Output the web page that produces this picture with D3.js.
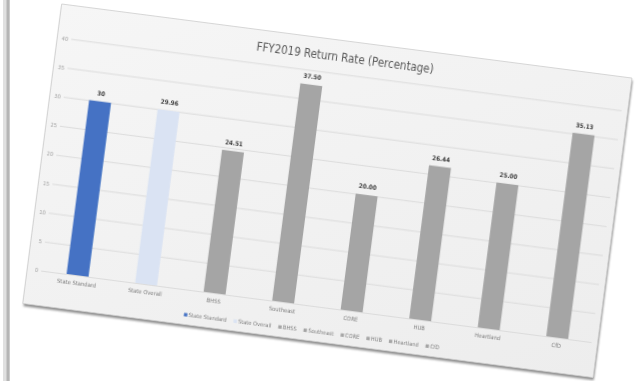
<!DOCTYPE html>
<html><head><meta charset="utf-8">
<script src="https://cdn.jsdelivr.net/npm/d3@7"></script>
<style>html,body{margin:0;padding:0;background:#fff;overflow:hidden}</style>
</head><body>
<svg id="chart" width="641" height="381"></svg>
<script>
// ---- data ----
const categories = ["State Standard", "State Overall", "BHSS", "Southeast", "CORE", "HUB", "Heartland", "CfD"];
const values = [30, 29.96, 24.51, 37.50, 20.00, 26.44, 25.00, 35.13];
const valueLabels = ["30", "29.96", "24.51", "37.50", "20.00", "26.44", "25.00", "35.13"];
const barColors = ["#4472c4", "#dae3f3", "#a5a5a5", "#a5a5a5", "#a5a5a5", "#a5a5a5", "#a5a5a5", "#a5a5a5"];
const yTicks = [0, 5, 10, 15, 20, 25, 30, 35, 40];
const titleText = "FFY2019 Return Rate (Percentage)";

// ---- layout ----
const W = 575, H = 302;
const FONT = "'Liberation Sans Narrow','Arial Narrow','DejaVu Sans Condensed',sans-serif";
const svg = d3.select("#chart");
svg.append("rect").attr("width", 641).attr("height", 381).attr("fill", "#fff");

// page left border
svg.append("rect").attr("x", 3).attr("y", 0).attr("width", 7).attr("height", 381).attr("fill", "#e0e0e0");
svg.append("rect").attr("x", 6.5).attr("y", 0).attr("width", 3).attr("height", 381).attr("fill", "#b5b5b5");

const defs = svg.append("defs");
defs.append("filter").attr("id", "sh").attr("x", "-5%").attr("y", "-5%").attr("width", "110%").attr("height", "110%")
  .append("feGaussianBlur").attr("stdDeviation", 0.9);
defs.append("filter").attr("id", "soft")
  .append("feGaussianBlur").attr("stdDeviation", 0.35);
const grad = defs.append("linearGradient").attr("id", "cardg").attr("x1", 0).attr("y1", 0).attr("x2", 1).attr("y2", 1);
grad.append("stop").attr("offset", "0%").attr("stop-color", "#f6f6f6");
grad.append("stop").attr("offset", "100%").attr("stop-color", "#ededed");

const card = svg.append("g").attr("transform", "translate(61.7,4) rotate(7.4)");

// shadow & card
card.append("rect").attr("x", 1).attr("y", 2.5).attr("width", W).attr("height", H)
  .attr("fill", "#8a8a8a").attr("filter", "url(#sh)");
card.append("rect").attr("width", W).attr("height", H)
  .attr("fill", "url(#cardg)").attr("stroke", "#cfcfcf").attr("stroke-width", 0.8);

const g = card.append("g").attr("filter", "url(#soft)");

const x = d3.scaleBand().domain(categories).range([16.1, 568.9]).paddingInner(0.68).paddingOuter(0.34);
const y = d3.scaleLinear().domain([0, 40]).range([267, 33.3]);

// gridlines + y labels
const yAxis = d3.axisLeft(y).tickValues(yTicks).tickSize(-(569 - 14)).tickPadding(3);
const ya = g.append("g").attr("transform", "translate(14,0)").call(yAxis);
ya.select(".domain").remove();
ya.selectAll(".tick line").attr("stroke", "#d9d9d9").attr("stroke-width", 0.9);
ya.selectAll(".tick text").attr("fill", "#a0a0a0").style("font-family", FONT).style("font-size", "5.6px");

// bars
g.selectAll("rect.bar").data(categories).enter().append("rect")
  .attr("class", "bar")
  .attr("x", d => x(d))
  .attr("width", x.bandwidth())
  .attr("y", (d, i) => y(values[i]))
  .attr("height", (d, i) => y(0) - y(values[i]))
  .attr("fill", (d, i) => barColors[i]);

// data labels
g.selectAll("text.dl").data(categories).enter().append("text")
  .attr("class", "dl")
  .attr("x", d => x(d) + x.bandwidth() / 2)
  .attr("y", (d, i) => y(values[i]) - 6)
  .attr("text-anchor", "middle")
  .attr("fill", "#404040")
  .style("font-family", FONT).style("font-size", "6.3px").style("font-weight", "bold")
  .text((d, i) => valueLabels[i]);

// x labels
const xAxis = d3.axisBottom(x).tickSize(0).tickPadding(6);
const xa = g.append("g").attr("transform", `translate(0,${y(0)})`).call(xAxis);
xa.select(".domain").remove();
xa.selectAll(".tick text").attr("fill", "#808080").style("font-family", FONT).style("font-size", "5.8px");

// title
g.append("text").attr("x", 288).attr("y", 21).attr("text-anchor", "middle")
  .attr("fill", "#595959").style("font-family", FONT).style("font-size", "11.5px")
  .text(titleText);

// legend
const leg = g.append("g").attr("transform", "translate(0,292.5)");
const items = leg.selectAll("g").data(categories).enter().append("g");
items.append("rect").attr("x", 0).attr("y", -2).attr("width", 3.4).attr("height", 3.4)
  .attr("fill", (d, i) => barColors[i]);
items.append("text").attr("x", 4.6).attr("y", 1.8).attr("fill", "#808080")
  .style("font-family", FONT).style("font-size", "5.7px").text(d => d);
let cx = 0;
const widths = [];
items.each(function () {
  const w = 4.6 + d3.select(this).select("text").node().getComputedTextLength();
  widths.push(w);
});
const gap = 7;
const total = d3.sum(widths) + gap * (widths.length - 1);
cx = 290 - total / 2;
items.attr("transform", (d, i) => {
  const t = `translate(${cx},0)`;
  cx += widths[i] + gap;
  return t;
});
</script>
</body></html>
